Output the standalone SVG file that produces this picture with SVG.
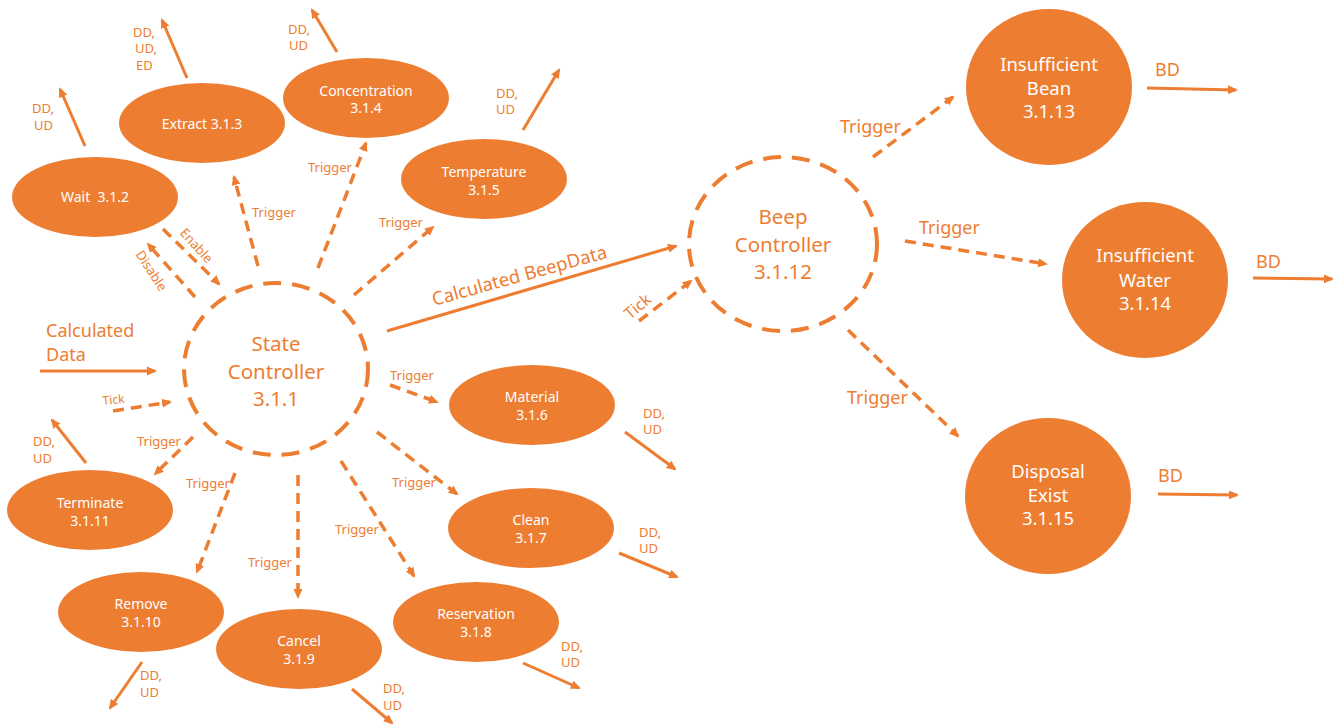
<svg xmlns="http://www.w3.org/2000/svg" width="1337" height="725" viewBox="0 0 1337 725">
<style>
.n{fill:#ED7D31}
.t{fill:#FFFFFF;font-family:"Noto Sans","Open Sans",sans-serif;font-size:14px;text-anchor:middle}
.tb{fill:#FFFFFF;font-family:"Noto Sans","Open Sans",sans-serif;font-size:18.5px;text-anchor:middle}
.ct{fill:#ED7D31;font-family:"Noto Sans","Open Sans",sans-serif;font-size:20.5px;text-anchor:middle}
.dc{fill:none;stroke:#ED7D31;stroke-width:4;stroke-dasharray:18 11}
.s{stroke:#ED7D31;stroke-width:3;fill:none;marker-end:url(#ah)}
.d{stroke:#ED7D31;stroke-width:3.5;fill:none;stroke-dasharray:11 7;marker-end:url(#ah)}
.l{fill:#ED7D31;font-family:"Noto Sans","Open Sans",sans-serif;font-size:13px}
.lb{fill:#ED7D31;font-family:"Noto Sans","Open Sans",sans-serif;font-size:18px}
</style>
<defs>
<marker id="ah" viewBox="0 0 10 10" refX="8" refY="5" markerWidth="10" markerHeight="10" markerUnits="userSpaceOnUse" orient="auto"><path d="M0,0.5 L10,5 L0,9.5 z" fill="#ED7D31"/></marker>
</defs>
<rect width="1337" height="725" fill="#FFFFFF"/>

<g id="state-controller"><ellipse class="dc" cx="276" cy="369" rx="92" ry="86"/><text class="ct" x="276" y="351">State</text><text class="ct" x="276" y="379">Controller</text><text class="ct" x="276" y="406">3.1.1</text></g>
<g id="beep-controller"><ellipse class="dc" cx="783" cy="244" rx="94" ry="87"/><text class="ct" x="783" y="224">Beep</text><text class="ct" x="783" y="252">Controller</text><text class="ct" x="783" y="279">3.1.12</text></g>

<g id="wait"><ellipse class="n" cx="95" cy="197" rx="83" ry="40"/><text class="t" x="95" y="202" style="white-space:pre">Wait  3.1.2</text></g>
<g id="extract"><ellipse class="n" cx="202" cy="123" rx="83" ry="40"/><text class="t" x="202" y="129">Extract 3.1.3</text></g>
<g id="concentration"><ellipse class="n" cx="366" cy="98" rx="83" ry="40"/><text class="t" x="366" y="96">Concentration</text><text class="t" x="366" y="113">3.1.4</text></g>
<g id="temperature"><ellipse class="n" cx="484" cy="179" rx="83" ry="40"/><text class="t" x="484" y="177">Temperature</text><text class="t" x="484" y="195">3.1.5</text></g>
<g id="material"><ellipse class="n" cx="532" cy="405" rx="83" ry="40"/><text class="t" x="532" y="402">Material</text><text class="t" x="532" y="420">3.1.6</text></g>
<g id="clean"><ellipse class="n" cx="531" cy="528" rx="83" ry="40"/><text class="t" x="531" y="525">Clean</text><text class="t" x="531" y="543">3.1.7</text></g>
<g id="reservation"><ellipse class="n" cx="476" cy="622" rx="83" ry="40"/><text class="t" x="476" y="619">Reservation</text><text class="t" x="476" y="637">3.1.8</text></g>
<g id="cancel"><ellipse class="n" cx="299" cy="649" rx="83" ry="40"/><text class="t" x="299" y="646">Cancel</text><text class="t" x="299" y="664">3.1.9</text></g>
<g id="remove"><ellipse class="n" cx="141" cy="612" rx="83" ry="40"/><text class="t" x="141" y="609">Remove</text><text class="t" x="141" y="627">3.1.10</text></g>
<g id="terminate"><ellipse class="n" cx="90" cy="510" rx="83" ry="40"/><text class="t" x="90" y="508">Terminate</text><text class="t" x="90" y="526">3.1.11</text></g>

<g id="insufficient-bean"><ellipse class="n" cx="1049" cy="87" rx="83" ry="78"/><text class="tb" x="1049" y="71">Insufficient</text><text class="tb" x="1049" y="95">Bean</text><text class="tb" x="1049" y="118">3.1.13</text></g>
<g id="insufficient-water"><ellipse class="n" cx="1145" cy="280" rx="83" ry="78"/><text class="tb" x="1145" y="262">Insufficient</text><text class="tb" x="1145" y="287">Water</text><text class="tb" x="1145" y="310">3.1.14</text></g>
<g id="disposal-exist"><ellipse class="n" cx="1048" cy="496" rx="83" ry="78"/><text class="tb" x="1048" y="478">Disposal</text><text class="tb" x="1048" y="502">Exist</text><text class="tb" x="1048" y="525">3.1.15</text></g>

<g id="connectors">
<line class="s" x1="40" y1="371" x2="155" y2="371"/>
<text class="lb" x="46" y="337">Calculated</text><text class="lb" x="46" y="361">Data</text>
<line class="d" x1="113" y1="411" x2="170" y2="402"/>
<text class="l" x="103" y="405" transform="rotate(-6 103 405)" style="font-size:12px">Tick</text>

<line class="d" x1="193" y1="437" x2="155" y2="474"/>
<text class="l" x="137" y="446">Trigger</text>
<line class="d" x1="235" y1="473" x2="197" y2="572"/>
<text class="l" x="186" y="488">Trigger</text>
<line class="d" x1="298" y1="475" x2="298" y2="597"/>
<text class="l" x="248" y="567">Trigger</text>
<line class="d" x1="341" y1="461" x2="414" y2="576"/>
<text class="l" x="335" y="534">Trigger</text>
<line class="d" x1="377" y1="432" x2="457" y2="494"/>
<text class="l" x="392" y="487">Trigger</text>
<line class="d" x1="390" y1="385" x2="437" y2="402"/>
<text class="l" x="390" y="380">Trigger</text>

<line class="d" x1="163" y1="229" x2="219" y2="284"/>
<text class="l" x="196" y="250" text-anchor="middle" transform="rotate(48 196 246)">Enable</text>
<line class="d" x1="195" y1="297" x2="148" y2="244"/>
<text class="l" x="151" y="275" text-anchor="middle" transform="rotate(57 151 271)">Disable</text>
<line class="d" x1="258" y1="266" x2="234" y2="177"/>
<text class="l" x="252" y="217">Trigger</text>
<line class="d" x1="318" y1="268" x2="366" y2="143"/>
<text class="l" x="308" y="172">Trigger</text>
<line class="d" x1="354" y1="295" x2="433" y2="227"/>
<text class="l" x="379" y="227">Trigger</text>

<line class="s" x1="387" y1="331" x2="676" y2="246"/>
<text class="lb" x="434" y="306" transform="rotate(-15.5 434 306)" style="font-size:18.5px">Calculated BeepData</text>
<line class="d" x1="639" y1="321" x2="691" y2="281"/>
<text class="lb" x="630" y="320" transform="rotate(-40 630 320)" style="font-size:16px">Tick</text>

<line class="s" x1="85" y1="146" x2="60" y2="89"/>
<text class="l" x="32" y="113">DD,</text><text class="l" x="34" y="130">UD</text>
<line class="s" x1="187" y1="78" x2="162" y2="20"/>
<text class="l" x="133" y="37">DD,</text><text class="l" x="135" y="53">UD,</text><text class="l" x="136" y="70">ED</text>
<line class="s" x1="337" y1="52" x2="312" y2="10"/>
<text class="l" x="288" y="34">DD,</text><text class="l" x="289" y="50">UD</text>
<line class="s" x1="523" y1="130" x2="559" y2="70"/>
<text class="l" x="496" y="98">DD,</text><text class="l" x="496" y="114">UD</text>
<line class="s" x1="625" y1="432" x2="675" y2="469"/>
<text class="l" x="643" y="418">DD,</text><text class="l" x="643" y="434">UD</text>
<line class="s" x1="619" y1="553" x2="677" y2="577"/>
<text class="l" x="639" y="537">DD,</text><text class="l" x="639" y="553">UD</text>
<line class="s" x1="523" y1="663" x2="579" y2="688"/>
<text class="l" x="561" y="651">DD,</text><text class="l" x="561" y="667">UD</text>
<line class="s" x1="352" y1="689" x2="392" y2="723"/>
<text class="l" x="383" y="693">DD,</text><text class="l" x="383" y="710">UD</text>
<line class="s" x1="142" y1="662" x2="110" y2="708"/>
<text class="l" x="140" y="680">DD,</text><text class="l" x="140" y="697">UD</text>
<line class="s" x1="86" y1="463" x2="52" y2="420"/>
<text class="l" x="33" y="446">DD,</text><text class="l" x="33" y="463">UD</text>

<line class="d" x1="873" y1="157" x2="953" y2="97"/>
<text class="lb" x="840" y="133">Trigger</text>
<line class="d" x1="905" y1="241" x2="1046" y2="264"/>
<text class="lb" x="919" y="234">Trigger</text>
<line class="d" x1="848" y1="330" x2="958" y2="436"/>
<text class="lb" x="847" y="404">Trigger</text>

<line class="s" x1="1147" y1="88" x2="1236" y2="90"/>
<text class="lb" x="1155" y="76">BD</text>
<line class="s" x1="1253" y1="278" x2="1332" y2="279"/>
<text class="lb" x="1256" y="268">BD</text>
<line class="s" x1="1158" y1="494" x2="1237" y2="495"/>
<text class="lb" x="1158" y="482">BD</text>
</g>
</svg>
